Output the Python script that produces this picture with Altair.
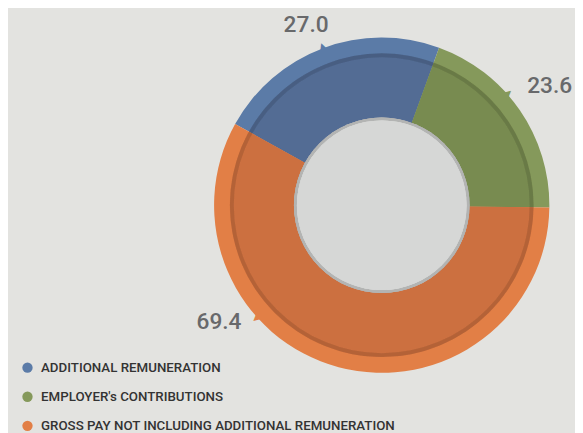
import altair as alt
import pandas as pd
import math

categories = ["ADDITIONAL REMUNERATION", "EMPLOYER's CONTRIBUTIONS",
              "GROSS PAY NOT INCLUDING ADDITIONAL REMUNERATION"]
values = [27.0, 23.6, 69.4]
labels = ["27.0", "23.6", "69.4"]

outer_colors = ["#5b7ba7", "#85995b", "#e27f46"]
inner_colors = ["#536c94", "#788b50", "#cc7040"]

df = pd.DataFrame({"category": categories, "value": values,
                   "label": labels, "idx": list(range(len(values)))})

start = math.radians(299)
tscale = alt.Scale(range=[start, start + 2 * math.pi])
theta = alt.Theta("value:Q", stack=True, scale=tscale)
order = alt.Order("idx:Q")

FONT = "Roboto, Open Sans, sans-serif"
R_OUT, R_MID, R_IN = 170, 154, 88

outer = alt.Chart(df).mark_arc(radius=R_OUT, radius2=R_IN, stroke=None).encode(
    theta=theta, order=order,
    color=alt.Color("category:N",
                    scale=alt.Scale(domain=categories, range=outer_colors),
                    legend=alt.Legend(title=None, orient="none",
                                      legendX=-196, legendY=328,
                                      symbolType="circle", symbolSize=110,
                                      symbolStrokeWidth=0,
                                      labelFont=FONT,
                                      labelFontSize=13.5, labelFontWeight=500,
                                      labelColor="#333333", labelLimit=600,
                                      rowPadding=14.5, labelOffset=7)),
)

inner = alt.Chart(df).mark_arc(radius=R_MID, radius2=R_IN, stroke=None).encode(
    theta=theta, order=order,
    color=alt.Color("category:N",
                    scale=alt.Scale(domain=categories, range=inner_colors),
                    legend=None),
)

edge = alt.Chart(df).mark_arc(radius=R_MID, radius2=R_MID - 4, color="#000000",
                              opacity=0.04).encode(
    theta=alt.value(0), theta2=alt.value(6.2832))

hole_shadow = alt.Chart(df).mark_arc(radius=R_IN + 1, color="#b3b4b3").encode(
    theta=alt.value(0), theta2=alt.value(6.2832))
hole = alt.Chart(df).mark_arc(radius=R_IN - 2, color="#d6d7d6").encode(
    theta=alt.value(0), theta2=alt.value(6.2832))

# per-label placement tweaks:
# (label theta offset rad, label radius, arrow theta offset rad, arrow rotation deg, arrow colour)
label_style = {
    "27.0": (-0.04, 198, 0.0, 340, outer_colors[0]),
    "23.6": (-0.014, 209, -0.12, 48, outer_colors[1]),
    "69.4": (0.689, 203, 0.576, 228, outer_colors[2]),
}

mid_theta = alt.Theta("mid:Q", scale=tscale)

layers = [outer, inner, edge, hole_shadow, hole]
for lab, (toff, rad, aoff, ang, col) in label_style.items():
    base = alt.Chart(df).transform_window(
        cum="sum(value)", sort=[alt.SortField("idx")]
    ).transform_calculate(
        mid="datum.cum - datum.value / 2"
    ).transform_filter(alt.datum.label == lab)
    layers.append(base.mark_text(
        radius=R_OUT + 1, thetaOffset=aoff, angle=ang, text="▲",
        fontSize=14, color=col, baseline="middle", align="center").encode(
        theta=mid_theta))
    layers.append(base.mark_text(
        radius=rad, thetaOffset=toff, fontSize=23, font=FONT,
        fontWeight=500, color="#68696b", baseline="middle",
        align="center").encode(theta=mid_theta, text="label:N"))

chart = alt.layer(*layers).resolve_scale(color="independent").properties(
    width=340, height=340,
    padding={"left": 209, "top": 27, "right": 26, "bottom": 58},
    autosize=alt.AutoSizeParams(type="none"),
    background="#e3e3e0",
).configure_view(stroke=None)

chart.save("out.html", embed_options={"renderer": "svg", "actions": False})
